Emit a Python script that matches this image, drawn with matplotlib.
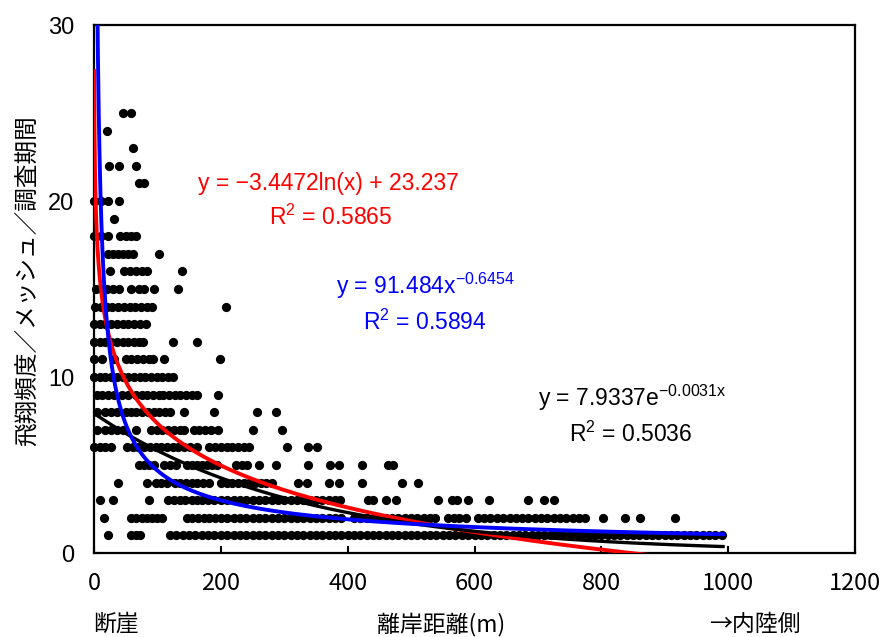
import numpy as np
import matplotlib
matplotlib.use("Agg")
import matplotlib.pyplot as plt

plt.rcParams['font.family'] = ['Liberation Sans', 'Noto Sans CJK JP', 'DejaVu Sans']
plt.rcParams['mathtext.fontset'] = 'custom'
plt.rcParams['mathtext.rm'] = 'Liberation Sans'
plt.rcParams['mathtext.it'] = 'Liberation Sans:italic'
plt.rcParams['mathtext.bf'] = 'Liberation Sans:bold'

# ---- data: x positions (m) of points at each frequency level ----
L1 = [22, 59, 66, 73, 120, 130, 140, 150, 160, 170, 180, 190, 200, 210, 220, 230, 240, 250,
      260, 270, 280, 290, 300, 310, 320, 330, 340, 350, 360, 370, 380, 390, 400, 410, 420,
      430, 440, 450, 460, 470, 480, 490, 500, 510, 520, 530, 540, 550, 560, 570, 580, 590,
      600, 610, 620, 630, 640, 650, 660, 670, 680, 690, 700, 710, 720, 730, 740, 750, 760,
      770, 780, 790, 800, 810, 820, 830, 840, 850, 860, 870, 880, 890, 900, 910, 920, 930,
      940, 950, 960, 970, 980, 990]
L2 = [15, 59, 67, 75, 83, 91, 99, 108, 146, 155, 164, 173, 182, 191, 200, 210, 220, 230,
      240, 250, 260, 270, 280, 290, 300, 310, 320, 330, 340, 350, 360, 370, 380, 390, 410,
      420, 430, 440, 450, 460, 470, 480, 490, 500, 510, 520, 530, 538, 558, 567, 576, 586,
      606, 615, 625, 635, 645, 656, 665, 675, 685, 695, 705, 715, 725, 735, 745, 755, 765,
      774, 802, 838, 861, 916]
L3 = [9, 30, 86, 117, 126, 135, 144, 154, 162, 170, 180, 190, 200, 210, 220, 230, 240, 250,
      260, 270, 280, 290, 300, 310, 320, 330, 340, 350, 360, 370, 380, 388, 432, 440, 460,
      477, 543, 565, 573, 589, 623, 685, 709, 725]
L4 = [38, 84, 97, 106, 115, 127, 136, 145, 154, 163, 172, 181, 200, 209, 218, 227, 236, 245,
      254, 263, 272, 281, 322, 336, 370, 386, 422, 486, 511]
L5 = [71, 79, 87, 94, 111, 120, 130, 146, 154, 162, 170, 178, 186, 194, 224, 233, 242, 260,
      287, 337, 372, 387, 422, 463, 471]
L6 = [0, 9, 18, 27, 52, 61, 70, 79, 88, 97, 106, 115, 124, 133, 142, 151, 163, 182, 191,
      200, 209, 218, 227, 236, 245, 305, 337, 352]
L7 = [4, 18, 27, 36, 45, 66, 90, 99, 108, 117, 126, 135, 142, 157, 166, 175, 184, 195, 250, 296]
L8 = [4, 18, 27, 36, 50, 59, 67, 76, 85, 94, 103, 112, 120, 142, 190, 257, 287]
L9 = [4, 13, 22, 31, 44, 53, 66, 75, 84, 93, 102, 109, 118, 127, 136, 145, 154, 162, 195]
L10 = [0, 9, 18, 27, 36, 45, 54, 63, 72, 81, 90, 99, 108, 117, 125]
L11 = [0, 12, 32, 50, 59, 68, 77, 86, 93, 111, 199]
L12 = [0, 9, 18, 27, 36, 45, 54, 63, 71, 77, 125, 163]
L13 = [0, 9, 18, 27, 36, 45, 54, 63, 72, 82]
L14 = [2, 11, 20, 29, 38, 47, 56, 65, 74, 83, 92, 208]
L15 = [3, 12, 21, 30, 39, 58, 71, 79, 95, 132]
L16 = [25, 48, 57, 66, 75, 84, 138]
L17 = [22, 30, 38, 46, 54, 61, 103]
L18 = [0, 11, 22, 41, 50, 59, 67]
L19 = [32]
L20 = [0, 11, 22, 40]
L21 = [71, 79]
L22 = [23, 40, 67]
L23 = [62]
L24 = [20]
L25 = [46, 58]
level_lists = [L1, L2, L3, L4, L5, L6, L7, L8, L9, L10, L11, L12, L13, L14, L15,
               L16, L17, L18, L19, L20, L21, L22, L23, L24, L25]
levels = list(range(1, 26))

# trendline coefficients (as printed on the chart)
log_a, log_b = -3.4472, 23.237
pow_a, pow_b = 91.484, -0.6454
exp_a, exp_b = 7.9337, -0.0031
x_min_fit, x_max_fit = 0.3, 992

xticks = [0, 200, 400, 600, 800, 1000, 1200]
yticks = [0, 10, 20, 30]

xs = np.concatenate([np.array(l, float) for l in level_lists])
ys = np.concatenate([np.full(len(l), v, float) for l, v in zip(level_lists, levels)])

W, H = 882, 637
fig = plt.figure(figsize=(W / 100, H / 100), dpi=100)
ax = fig.add_axes([94 / W, 1 - 553 / H, (855 - 94) / W, (553 - 25) / H])

ax.scatter(xs, ys, s=44, color='black', zorder=2, clip_on=False, linewidths=0)

xf = np.geomspace(x_min_fit, x_max_fit, 500)
ax.plot(xf, log_a * np.log(xf) + log_b, color='#ff0000', lw=2.8, zorder=3)
ax.plot(xf, exp_a * np.exp(exp_b * xf), color='black', lw=2.4, zorder=3)
ax.plot(xf, pow_a * xf ** pow_b, color='#0000ff', lw=2.8, zorder=4)

ax.set_xlim(0, 1200)
ax.set_ylim(0, 30)
ax.set_xticks(xticks)
ax.set_yticks(yticks)
ax.set_xticklabels([str(t) for t in xticks], fontfamily='Noto Sans CJK JP', fontsize=17)
ax.set_yticklabels([str(t) for t in yticks], fontfamily='Liberation Sans', fontsize=17)
ax.tick_params(axis='x', direction='in', length=5, width=1.5, pad=14)
ax.tick_params(axis='y', direction='in', length=5, width=1.5, pad=14)
for sp in ax.spines.values():
    sp.set_linewidth(1.6)
    sp.set_color('black')

fs = 16.5
ax.text(369, 21.0, 'y = \u22123.4472ln(x) + 23.237', color='#ff0000', fontsize=fs,
        ha='center', va='center')
ax.text(374, 19.1, r'R$^{\mathregular{2}}$ = 0.5865', color='#ff0000', fontsize=fs,
        ha='center', va='center')
ax.text(522, 15.2, r'y = 91.484x$^{\mathregular{-0.6454}}$', color='#0000ff', fontsize=fs,
        ha='center', va='center')
ax.text(522, 13.1, r'R$^{\mathregular{2}}$ = 0.5894', color='#0000ff', fontsize=fs,
        ha='center', va='center')
ax.text(849, 8.8, r'y = 7.9337e$^{\mathregular{-0.0031x}}$', color='black', fontsize=fs,
        ha='center', va='center')
ax.text(847, 6.75, r'R$^{\mathregular{2}}$ = 0.5036', color='black', fontsize=fs,
        ha='center', va='center')

jp = ['Noto Sans CJK JP', 'DejaVu Sans']
fig.text(116 / W, 1 - 624 / H, '断崖', family=jp, fontsize=16.5, ha='center', va='center')
fig.text(441 / W, 1 - 624 / H, '離岸距離(m)', family=jp, fontsize=16.5, ha='center', va='center')
fig.text(755 / W, 1 - 624 / H, '→内陸側', family=jp, fontsize=16.5, ha='center', va='center')
fig.text(27 / W, 1 - 281 / H, '飛翔頻度／メッシュ／調査期間', family=jp, fontsize=17,
         rotation=90, ha='center', va='center')

fig.savefig('out.png', dpi=100)
